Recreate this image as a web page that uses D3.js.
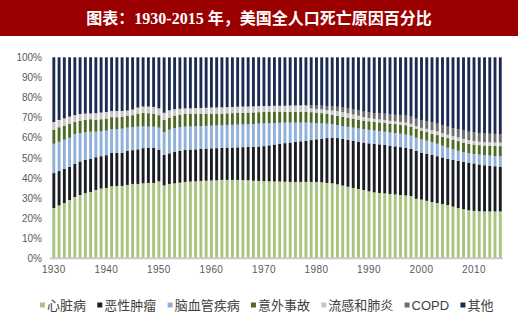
<!DOCTYPE html>
<html><head><meta charset="utf-8">
<script src="https://cdn.jsdelivr.net/npm/d3@7/dist/d3.min.js"></script>
<style>
html,body{margin:0;padding:0;background:#fff;}
svg{display:block;}
</style></head>
<body><svg id="chart" width="520" height="324"></svg>
<script>
const titleText = "图表：1930-2015 年，美国全人口死亡原因百分比";
const years = d3.range(1930, 2016);
const seriesNames = ["心脏病","恶性肿瘤","脑血管疾病","意外事故","流感和肺炎","COPD","其他"];
const seriesColors = ["#a9c47e","#1b1d24","#8fb0da","#4f6a24","#c6c6c6","#6e6e6e","#1c2b52"];
const yTicks = [0,10,20,30,40,50,60,70,80,90,100];
const xTickYears = [1930,1940,1950,1960,1970,1980,1990,2000,2010];

const heart = [25,26.3,27.5,29,30.5,31.5,32.5,33,34,34.7,35,35.8,36,36,36.5,37,37,37.3,37.5,37.5,
  38.3,36.3,37,37.3,37.6,38,38.2,38.3,38.5,38.6,38.7,38.8,39,39,39,39,38.9,38.8,38.6,38.5,
  38.4,38.3,38.2,38.2,38.1,38,38,38,38,38,38,37.8,37.5,37.3,36.8,36.2,35.6,35,34.5,34,
  33.3,32.8,32.5,32.3,32,31.8,31.5,31.3,31,29.6,29.2,28.6,28,27.5,27,26.5,25.7,25,24.4,23.9,
  23.6,23.4,23.3,23.3,23.3,23.3];
const cancer = [17.4,17.1,16.9,16.5,16.5,16.7,16.5,16.6,16.3,16.1,16.3,16.7,16.4,16.5,17,16.8,17.2,17.5,17.5,17.5,
  15.7,15.1,15.2,15.7,15.9,15.9,15.9,15.9,15.9,16,16,16,16,16,16.1,16.2,16.4,16.6,16.9,17.1,
  17.4,17.9,18.4,18.8,19.2,19.6,19.9,20.2,20.5,20.8,21.2,21.7,22.3,22.7,23,23.2,23.4,23.5,23.5,23.6,
  23.9,24.2,24.2,24.1,24,23.9,23.8,23.7,23.5,23.9,23.4,23.4,23.5,23.3,23.2,23,23.3,23.5,23.6,23.7,
  23.6,23.3,23,22.7,22.5,22.3];
const stroke = [14.6,14.6,14.6,14.5,14.8,14.1,13.7,13.4,12.7,12.5,12.2,11.8,11.8,12,11.5,11.5,11.3,10.9,10.5,10.5,
  11,11.4,11.8,11.8,11.7,11.6,11.5,11.5,11.4,11.3,11.3,11.3,11.2,11.3,11.3,11.3,11.3,11.3,11.3,11.4,
  11.3,11,10.7,10.4,10.2,9.9,9.6,9.3,9,8.6,8.1,7.7,7.2,6.7,6.5,6.4,6.4,6.5,6.6,6.6,
  6.7,6.6,6.6,6.6,6.6,6.6,6.7,6.5,6.5,6.5,6.6,6.5,6.3,6.2,5.8,5.5,5.2,5,4.9,4.7,
  4.7,4.9,5,5.1,5.1,5.2];
const accident = [7,7.2,7,7,6,6.2,6.3,6.2,6,5.9,6,5.9,6,5.8,5.8,5.9,6.5,6.6,6.7,6.5,
  6.2,6,6,6.2,6.3,6.3,6.2,6.1,6,5.9,5.9,5.9,5.8,5.8,5.8,5.8,5.8,5.8,5.8,5.7,
  5.7,5.7,5.7,5.6,5.4,5.4,5.4,5.4,5.3,5.3,5.2,5,4.8,4.6,4.6,4.7,4.6,4.5,4.4,4.3,
  4.3,4.3,4.3,4.3,4.4,4.5,4.5,4.7,4.5,4.5,4.3,4.3,4.2,4.3,4.5,4.8,4.8,4.8,4.7,4.7,
  4.7,4.7,4.8,4.9,5,5];
const flu = [3.8,3.6,3.6,3.5,3.4,3.3,3,2.9,3.2,3.3,3.3,3.1,3.1,3,2.7,2.8,3,3.2,3.3,3.3,
  3.4,3.6,3.6,3.2,2.9,2.8,2.8,3,3,3.1,3.1,3,3.1,3.1,3.1,3.1,3.1,3,3,3,
  3,2.9,2.9,2.9,3,3.1,3.1,3.2,3.3,1.9,1.8,1.9,2,2.2,2.3,2.2,2.1,2,1.9,1.8,
  1.6,1.5,1.5,1.5,1.4,1.3,1.3,1.3,1.4,1.3,1.4,1.6,1.7,1.8,1.7,1.7,1.7,1.8,1.8,1.8,
  1.8,1.7,1.7,1.7,1.7,1.7];
const copd = [0,0,0,0,0,0,0,0,0,0,0,0,0,0,0,0,0,0,0,0,
  0,0,0,0,0,0,0,0,0,0,0,0,0,0,0,0,0,0,0,0,
  0,0,0,0,0,0,0,0,0,1.5,1.7,1.8,2,2.1,2.2,2.3,2.4,2.5,2.6,2.7,
  2.8,2.9,3,3.1,3.2,3.3,3.4,3.5,3.6,3.7,3.8,3.8,3.9,3.9,4,4,4.1,4.1,4.2,4.2,
  4.2,4.3,4.3,4.3,4.3,4.3];
const other = [32.2,31.2,30.4,29.5,28.8,28.2,28,27.9,27.8,27.5,27.2,26.7,26.7,26.7,26.5,26,25,24.5,24.5,24.7,
  25.4,27.6,26.4,25.8,25.6,25.4,25.4,25.2,25.2,25.1,25,25,24.9,24.8,24.7,24.6,24.5,24.5,24.4,24.3,
  24.2,24.2,24.1,24.1,24.1,24,24,23.9,23.9,23.9,24,24.1,24.2,24.4,24.6,25,25.5,26,26.5,27,
  27.4,27.7,27.9,28.1,28.4,28.6,28.8,29,29.5,30.5,31.3,31.8,32.4,33,33.8,34.5,35.2,35.8,36.4,37,
  37.4,37.7,37.9,38,38.1,38.2];

const seriesData = [heart, cancer, stroke, accident, flu, copd, other];
const table = years.map((y, i) => {
  const row = {year: y};
  seriesNames.forEach((n, k) => row[n] = seriesData[k][i]);
  return row;
});

const svg = d3.select("#chart");
const sans = "'Liberation Sans', Arial, 'Noto Sans CJK SC', sans-serif";

// Title bar
svg.append("rect").attr("x", 0).attr("y", 0).attr("width", 518).attr("height", 36).attr("fill", "#9a0000");
svg.append("text").attr("x", 259).attr("y", 24).attr("text-anchor", "middle")
  .attr("fill", "#fff").attr("font-size", 16).attr("font-weight", "bold")
  .attr("font-family", "'Liberation Serif', 'Noto Sans CJK SC', serif")
  .text(titleText);

const x = d3.scaleBand().domain(years).range([51.2, 502.9]).paddingInner(0.45).paddingOuter(0.225);
const y = d3.scaleLinear().domain([0, 100]).range([258.3, 57.3]);

const stack = d3.stack().keys(seriesNames);
const layers = stack(table);

svg.append("g").selectAll("g").data(layers).join("g")
  .attr("fill", (d, i) => seriesColors[i])
  .selectAll("rect").data(d => d).join("rect")
  .attr("x", d => x(d.data.year))
  .attr("width", x.bandwidth())
  .attr("y", d => y(d[1]))
  .attr("height", d => Math.max(0, y(d[0]) - y(d[1])));

// baseline
svg.append("line").attr("x1", 50).attr("x2", 503).attr("y1", y(0)).attr("y2", y(0))
  .attr("stroke", "#c8c8c8").attr("stroke-width", 2);

// y axis
const yAxis = svg.append("g").attr("transform", "translate(42,0)")
  .call(d3.axisLeft(y).tickValues(yTicks).tickFormat(d => d + "%").tickSize(0).tickPadding(0));
yAxis.select(".domain").remove();
yAxis.selectAll("text").attr("font-size", 10).attr("font-family", sans).attr("fill", "#595959");

// x axis
const xAxis = svg.append("g").attr("transform", "translate(0,266)")
  .call(d3.axisBottom(x).tickValues(xTickYears).tickSize(0).tickPadding(0));
xAxis.select(".domain").remove();
xAxis.selectAll("text").attr("font-size", 10).attr("font-family", sans).attr("fill", "#595959")
  .attr("letter-spacing", "0.4px");

// legend
const legend = svg.append("g").attr("transform", "translate(40,305)");
let lx = 0;
seriesNames.forEach((n, i) => {
  const g = legend.append("g").attr("transform", `translate(${lx},0)`);
  g.append("rect").attr("x", 0).attr("y", -2.5).attr("width", 5).attr("height", 5).attr("fill", seriesColors[i]);
  const t = g.append("text").attr("x", 7).attr("y", 0).attr("dy", "0.36em")
    .attr("font-size", 13).attr("font-family", "'Liberation Sans', 'Noto Sans CJK SC', sans-serif")
    .attr("fill", "#404040").text(n);
  lx += 7 + t.node().getComputedTextLength() + 11.3;
});
</script>
</body></html>
